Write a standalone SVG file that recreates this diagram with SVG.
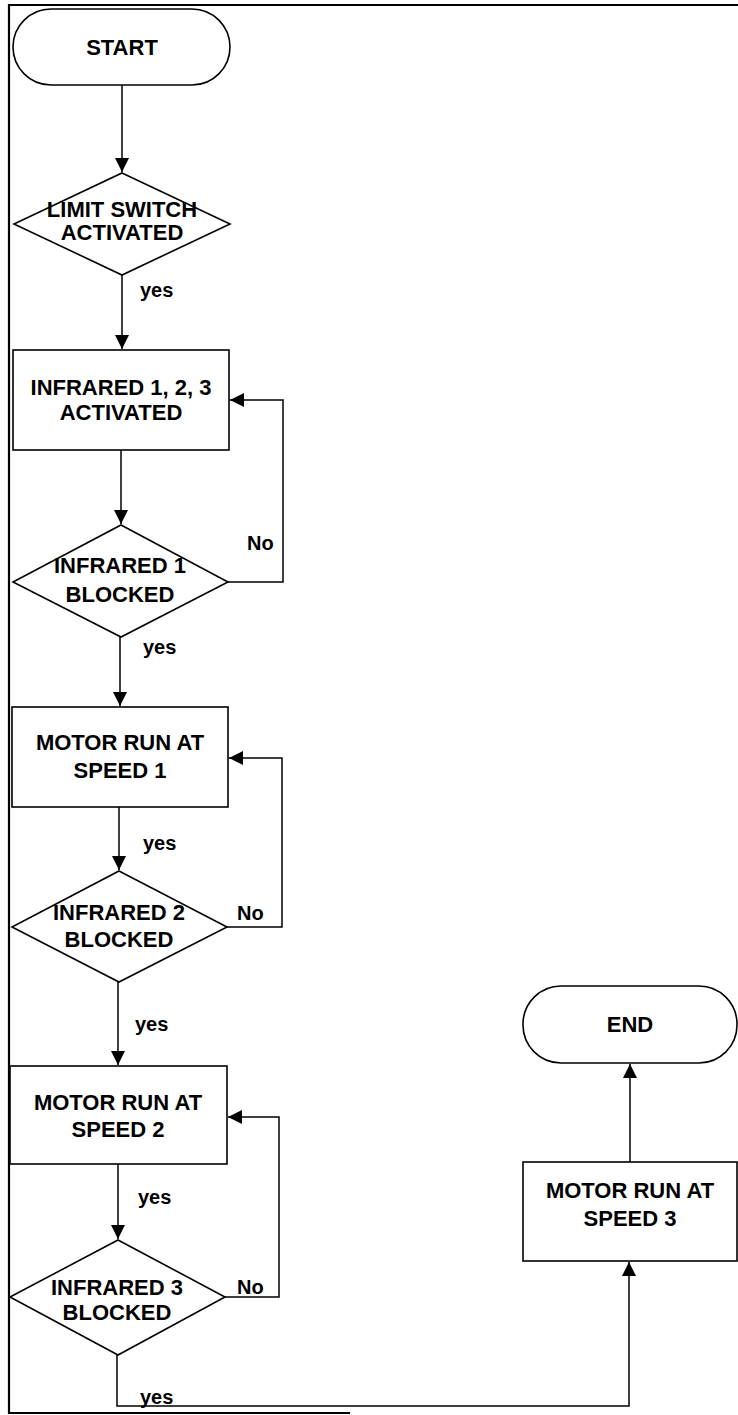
<svg xmlns="http://www.w3.org/2000/svg" width="738" height="1415" viewBox="0 0 738 1415">
<style>
.shape{fill:#fff;stroke:#000;stroke-width:1.6}
.ln{fill:none;stroke:#000;stroke-width:1.5}
.frame{fill:none;stroke:#000;stroke-width:2.2}
.t{font-family:"Liberation Sans",Arial,sans-serif;font-weight:bold;font-size:22px;text-anchor:middle;fill:#000}
.lb{font-family:"Liberation Sans",Arial,sans-serif;font-weight:bold;font-size:20px;fill:#000}
</style>
<defs>
<marker id="ah" markerUnits="userSpaceOnUse" markerWidth="14" markerHeight="18" viewBox="0 0 14 18" refX="14" refY="9" orient="auto">
<path d="M0,2 L14,9 L0,16 Z" fill="#000"/>
</marker>
</defs>
<rect width="738" height="1415" fill="#fff"/>
<g id="frame">
<path class="frame" d="M738,5 H9 V1413 H350"/>
</g>
<g id="connectors">
<path class="ln" d="M122,85 V172" marker-end="url(#ah)"/>
<path class="ln" d="M122,275 V349" marker-end="url(#ah)"/>
<path class="ln" d="M121,450 V524" marker-end="url(#ah)"/>
<path class="ln" d="M228,582 H283 V400 H230" marker-end="url(#ah)"/>
<path class="ln" d="M120,637 V706" marker-end="url(#ah)"/>
<path class="ln" d="M119,807 V870" marker-end="url(#ah)"/>
<path class="ln" d="M227,927 H282 V758 H229" marker-end="url(#ah)"/>
<path class="ln" d="M118,982 V1065" marker-end="url(#ah)"/>
<path class="ln" d="M118,1164 V1239" marker-end="url(#ah)"/>
<path class="ln" d="M225,1297 H279 V1117 H228" marker-end="url(#ah)"/>
<path class="ln" d="M117,1355 V1406 H629 V1262" marker-end="url(#ah)"/>
<path class="ln" d="M630,1162 V1064" marker-end="url(#ah)"/>
<text class="lb" x="140" y="297">yes</text>
<text class="lb" x="247" y="550">No</text>
<text class="lb" x="143" y="654">yes</text>
<text class="lb" x="143" y="850">yes</text>
<text class="lb" x="237" y="920">No</text>
<text class="lb" x="135" y="1031">yes</text>
<text class="lb" x="138" y="1204">yes</text>
<text class="lb" x="237" y="1294">No</text>
<text class="lb" x="140" y="1404">yes</text>
</g>
<g id="start">
<rect class="shape" x="13" y="9" width="217" height="76" rx="38" ry="38"/>
<text class="t" x="122" y="55">START</text>
</g>
<g id="limit-switch">
<polygon class="shape" points="122,173 230,224 122,275 14,224"/>
<text class="t" x="122" y="217">LIMIT SWITCH</text>
<text class="t" x="122" y="240">ACTIVATED</text>
</g>
<g id="infrared-activated">
<rect class="shape" x="13" y="350" width="216" height="100"/>
<text class="t" x="121" y="395">INFRARED 1, 2, 3</text>
<text class="t" x="121" y="420">ACTIVATED</text>
</g>
<g id="infrared1-blocked">
<polygon class="shape" points="121,525 228,582 121,637 13,582"/>
<text class="t" x="120" y="573">INFRARED 1</text>
<text class="t" x="120" y="602">BLOCKED</text>
</g>
<g id="speed1">
<rect class="shape" x="12" y="707" width="216" height="100"/>
<text class="t" x="120" y="750">MOTOR RUN AT</text>
<text class="t" x="120" y="778">SPEED 1</text>
</g>
<g id="infrared2-blocked">
<polygon class="shape" points="119,871 227,927 119,982 12,927"/>
<text class="t" x="119" y="920">INFRARED 2</text>
<text class="t" x="119" y="947">BLOCKED</text>
</g>
<g id="speed2">
<rect class="shape" x="10" y="1066" width="217" height="98"/>
<text class="t" x="118" y="1110">MOTOR RUN AT</text>
<text class="t" x="118" y="1137">SPEED 2</text>
</g>
<g id="infrared3-blocked">
<polygon class="shape" points="118,1240 225,1297 118,1355 10,1297"/>
<text class="t" x="117" y="1295">INFRARED 3</text>
<text class="t" x="117" y="1320">BLOCKED</text>
</g>
<g id="speed3">
<rect class="shape" x="523" y="1162" width="214" height="99"/>
<text class="t" x="630" y="1198">MOTOR RUN AT</text>
<text class="t" x="630" y="1226">SPEED 3</text>
</g>
<g id="end">
<rect class="shape" x="523" y="986" width="214" height="77" rx="38" ry="38"/>
<text class="t" x="630" y="1032">END</text>
</g>
</svg>
